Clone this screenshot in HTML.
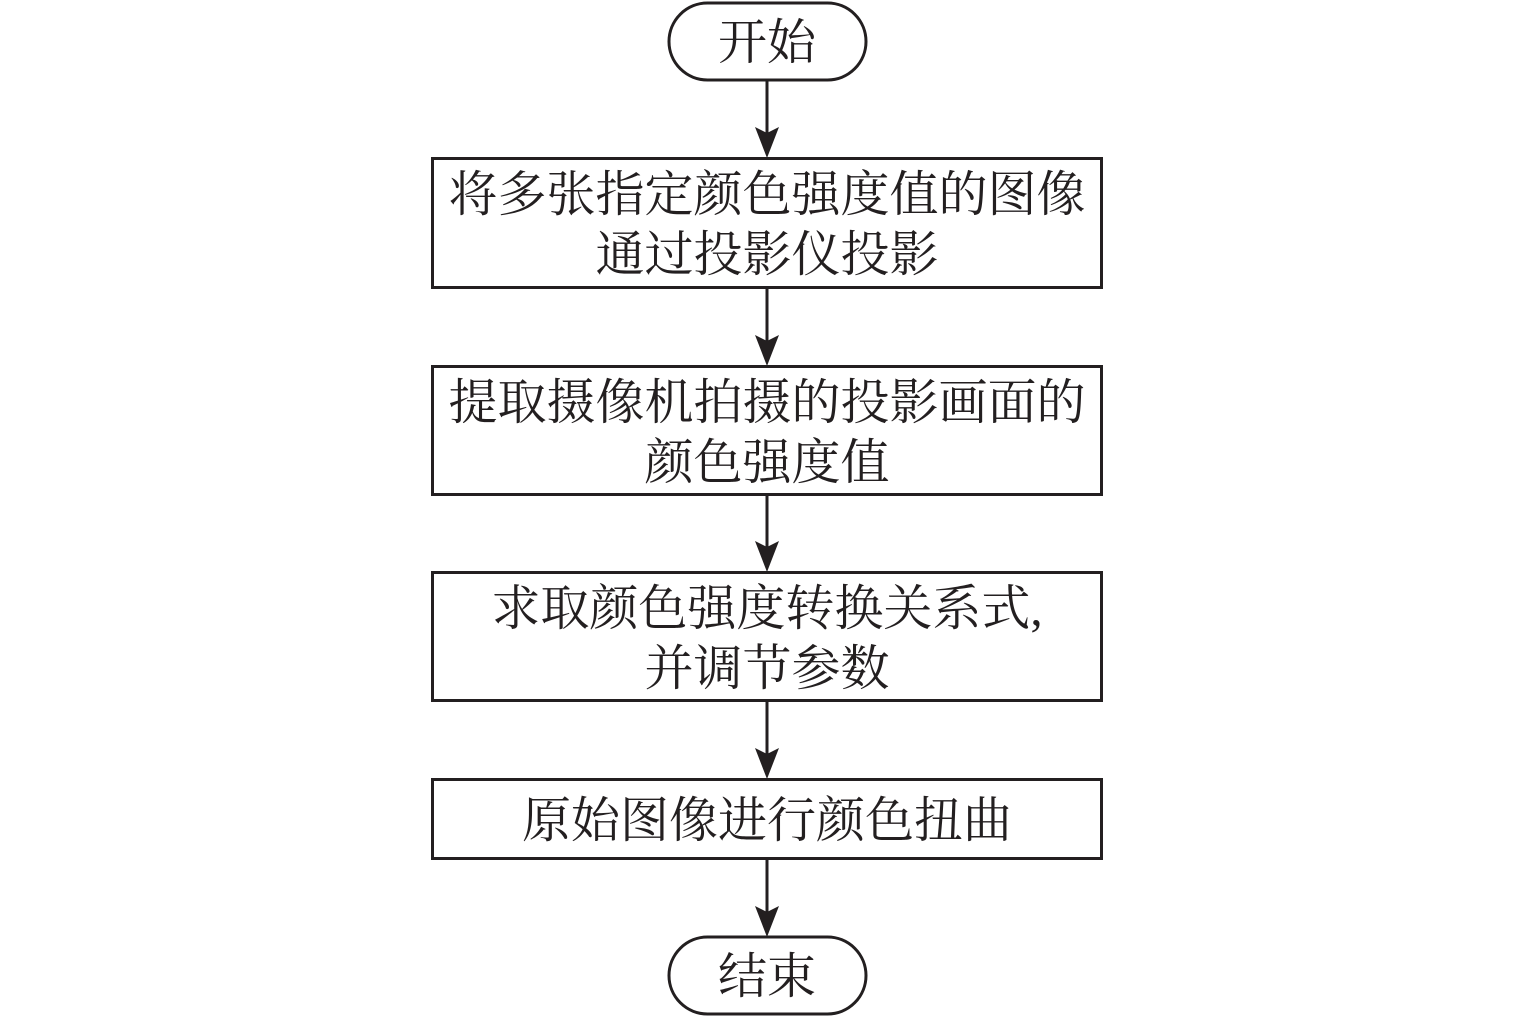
<!DOCTYPE html>
<html><head><meta charset="utf-8"><style>
html,body{margin:0;padding:0;background:#fff;}
text{font-family:"Liberation Serif","Noto Serif CJK SC",serif;font-size:49px;fill:#231f20;text-anchor:middle;}
</style></head><body>
<svg width="1535" height="1018" viewBox="0 0 1535 1018" xmlns="http://www.w3.org/2000/svg">
<g stroke="#231f20" stroke-width="3" fill="none">
<rect x="669" y="3" width="197" height="77" rx="38.5"/>
<rect x="432.5" y="158.5" width="669" height="129"/>
<rect x="432.5" y="366.5" width="669" height="128"/>
<rect x="432.5" y="572.5" width="669" height="128"/>
<rect x="432.5" y="779.5" width="669" height="79"/>
<rect x="669" y="937" width="197" height="77" rx="38.5"/>
</g>
<g fill="#231f20">
<line x1="767" y1="80" x2="767" y2="135" stroke="#231f20" stroke-width="3"/><path d="M755,127 L767,158 L779,127 L767,133 Z"/>
<line x1="767" y1="288" x2="767" y2="343" stroke="#231f20" stroke-width="3"/><path d="M755,335 L767,366 L779,335 L767,341 Z"/>
<line x1="767" y1="495" x2="767" y2="549" stroke="#231f20" stroke-width="3"/><path d="M755,541 L767,572 L779,541 L767,547 Z"/>
<line x1="767" y1="701" x2="767" y2="756" stroke="#231f20" stroke-width="3"/><path d="M755,748 L767,779 L779,748 L767,754 Z"/>
<line x1="767" y1="859" x2="767" y2="914" stroke="#231f20" stroke-width="3"/><path d="M755,906 L767,937 L779,906 L767,912 Z"/>
</g>
<text x="767" y="59">开始</text>
<text x="767" y="211">将多张指定颜色强度值的图像</text>
<text x="767" y="271">通过投影仪投影</text>
<text x="767" y="419">提取摄像机拍摄的投影画面的</text>
<text x="767" y="479">颜色强度值</text>
<text x="767" y="625">求取颜色强度转换关系式,</text>
<text x="767" y="685">并调节参数</text>
<text x="767" y="837">原始图像进行颜色扭曲</text>
<text x="767" y="993">结束</text>
</svg>
</body></html>
